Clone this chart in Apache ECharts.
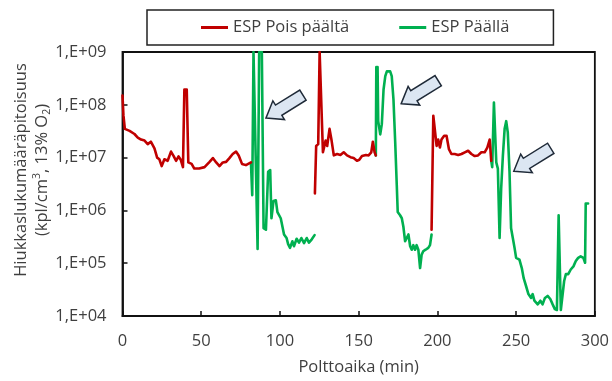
<!DOCTYPE html>
<html>
<head>
<meta charset="utf-8">
<script src="https://cdn.jsdelivr.net/npm/echarts@6/dist/echarts.min.js"></script>
<style>
  html, body { margin: 0; padding: 0; background: #ffffff; }
  #chart { width: 612px; height: 381px; }
</style>
</head>
<body>
<div id="chart"></div>
<script>
// Particle number concentration vs. burning time, ESP switched off / on.
// Each run is a list of [time (min), concentration (pcs/cm3, 13% O2)].

const seriesNames = ['ESP Pois päältä', 'ESP Päällä'];

const offRun1 = [
  [0, 1.5e8], [0.6, 6.3e7], [1.5, 3.5e7], [4.5, 3.2e7], [7.6, 2.8e7], [9.7, 2.4e7],
  [11.8, 2.2e7], [14, 2.1e7], [16, 1.8e7], [18, 2.0e7], [20.3, 1.5e7], [22, 1.0e7],
  [23.4, 9.3e6], [24.9, 6.9e6], [26.6, 9.3e6], [28.7, 8.7e6], [30.8, 1.3e7], [32.5, 1.07e7],
  [34, 8.7e6], [35.6, 1.05e7], [37, 9.1e6], [38.4, 6.6e6], [39.3, 1.95e8], [40.8, 1.95e8],
  [41.8, 8.1e6], [43.9, 7.6e6], [45.6, 6.2e6], [48.7, 6.2e6], [52.1, 6.6e6], [55.3, 8.3e6],
  [57.4, 9.8e6], [59.5, 8.1e6], [61.6, 6.9e6], [63.7, 8.1e6], [65.8, 8.3e6], [67.9, 9.8e6],
  [70, 1.17e7], [72.1, 1.3e7], [73.8, 1.1e7], [75.9, 7.6e6], [78.4, 7.2e6], [81.6, 8.1e6]
];

const offRun2 = [
  [122.2, 2.1e6], [123, 1.66e7], [124.3, 1.8e7], [125.2, 1e9], [126.4, 1e9], [127.3, 1.26e7],
  [129, 2.1e7], [130, 1.66e7], [131.5, 3.5e7], [132.8, 2.1e7], [134.2, 1.1e7], [136.3, 1.17e7],
  [138.4, 1.12e7], [140.5, 1.26e7], [142.6, 1.1e7], [144.8, 1.02e7], [146.8, 9.8e6], [148.9, 8.7e6],
  [150.4, 9.1e6], [152.1, 1.07e7], [154.6, 1.12e7], [156.3, 1.1e7], [158, 1.26e7], [159, 2.0e7],
  [160.1, 1.26e7], [160.9, 1.1e7]
];

const offRun3 = [
  [196.3, 4.3e5], [197.4, 6.2e7], [198.4, 5.8e7], [199.5, 1.66e7], [200.5, 2.2e7], [201.6, 1.55e7],
  [202.6, 2.2e7], [204.3, 2.6e7], [205.8, 2.6e7], [207.3, 1.45e7], [208.9, 1.17e7], [211, 1.17e7],
  [213.2, 1.12e7], [215.3, 1.17e7], [217.4, 1.26e7], [219.5, 1.35e7], [221.6, 1.17e7], [223.7, 1.07e7],
  [225.8, 1.1e7], [227.9, 1.26e7], [230, 1.26e7], [231.7, 1.55e7], [233.2, 2.2e7], [234.2, 8.7e6]
];

const onRun1 = [
  [81.6, 7.6e6], [82.4, 1.95e6], [83.2, 1e9], [84.3, 1e9], [85.8, 1.86e5], [86.8, 1e9],
  [88.5, 1e9], [89.6, 4.6e5], [91.1, 4.3e5], [92.5, 5.4e6], [93.8, 5.8e6], [94.6, 7.1e5],
  [95.9, 1.5e6], [97.4, 1.55e6], [98.4, 9.3e5], [100.5, 7.1e5], [102.6, 3.5e5], [104.2, 3.0e5],
  [105.2, 2.3e5], [106.4, 1.95e5], [107.9, 2.6e5], [108.9, 2.1e5], [110.6, 2.9e5], [112.1, 2.45e5],
  [113.6, 3.0e5], [115.3, 2.4e5], [117, 3.0e5], [118.4, 2.45e5], [120.1, 2.8e5], [122, 3.4e5]
];

const onRun2 = [
  [160.9, 1.1e7], [161.2, 5.2e8], [161.6, 4.9e7], [162, 5.2e8], [162.4, 4.9e7], [163.7, 2.75e7],
  [164.7, 4.3e7], [165.8, 1.95e8], [166.9, 3.5e8], [167.9, 4.3e8], [170, 4.3e8], [171, 3.5e8],
  [172.1, 1.26e8], [173.2, 1.95e7], [174.2, 3.0e6], [174.8, 9.3e5], [176.3, 8.1e5], [177.4, 7.1e5],
  [178.4, 4.9e5], [179.5, 2.6e5], [180.5, 2.75e5], [181.6, 3.5e5], [182.7, 2.1e5], [183.7, 1.8e5],
  [184.7, 2.2e5], [185.8, 1.8e5], [186.8, 2.2e5], [187.9, 1.8e5], [189, 8.1e4], [190, 1.45e5],
  [191.1, 1.7e5], [192.5, 1.8e5], [194.2, 1.95e5], [195.3, 2.2e5], [196.3, 3.5e5]
];

const onRun3 = [
  [234.2, 8.7e6], [234.8, 6.6e6], [235.9, 1.1e8], [236.7, 1.1e8], [237.4, 8.1e6], [238.4, 6.2e6],
  [239.5, 3.0e5], [240.5, 2.6e6], [241.6, 1.1e7], [242.7, 3.5e7], [243.7, 4.9e7], [244.7, 3.0e7],
  [245.8, 5.4e6], [246.8, 4.6e5], [247.9, 3.0e5], [249, 1.95e5], [250, 1.26e5], [252.1, 1.17e5],
  [253.6, 8.1e4], [254.8, 5.2e4], [256.3, 3.7e4], [257.8, 2.6e4], [259.5, 2.2e4], [260.5, 2.6e4],
  [261.6, 1.95e4], [262.6, 1.8e4], [263.7, 1.66e4], [265.4, 1.95e4], [266.8, 1.66e4], [268.3, 2.2e4],
  [270, 2.4e4], [271.7, 2.1e4], [273.2, 1.66e4], [274.6, 1.35e4], [275.9, 1.3e4], [277, 8.1e5],
  [277.8, 8.1e5], [278.4, 1.3e4], [279.5, 1.3e4], [280.5, 4.6e4], [281.6, 6.2e4], [283.1, 6.2e4],
  [284.7, 7.6e4], [286.4, 8.7e4], [287.9, 1.1e5], [289.4, 1.26e5], [291, 1.35e5], [292.7, 1.26e5],
  [293.8, 1.02e5], [294.2, 1.35e6], [295.7, 1.35e6]
];

const yTickLabels = ['1,E+04', '1,E+05', '1,E+06', '1,E+07', '1,E+08', '1,E+09'];
const xTicks = [0, 50, 100, 150, 200, 250, 300];

// Arrow callouts: tip location in data units.
const arrowTips = [[91.1, 5.6e7], [177, 1.05e8], [248.5, 5.5e6]];

const FONT = '"Open Sans", sans-serif';
const TEXT = '#3f3f3f';
const FS = 16.5;

// join runs with an empty point so the line breaks between them
function joinRuns(runs) {
  const out = [];
  runs.forEach((r, i) => {
    if (i > 0) out.push([r[0][0], '-']);
    r.forEach(p => out.push(p));
  });
  return out;
}

const chart = echarts.init(document.getElementById('chart'), null, { renderer: 'canvas' });

chart.setOption({
  animation: false,
  backgroundColor: '#ffffff',
  textStyle: { fontFamily: FONT },
  grid: {
    left: 122.5, right: 14.5, top: 52, bottom: 62.5,
    show: true, borderColor: '#111', borderWidth: 1.8, backgroundColor: 'transparent'
  },
  legend: {
    left: 147, top: 10,
    padding: [9, 44, 9, 54],
    itemGap: 50, itemWidth: 27, itemHeight: 3, icon: 'rect',
    borderColor: '#222', borderWidth: 1.5,
    textStyle: { fontFamily: FONT, fontSize: FS, color: TEXT },
    data: seriesNames
  },
  xAxis: {
    type: 'value', min: xTicks[0], max: xTicks[xTicks.length - 1], interval: 50,
    name: 'Polttoaika (min)', nameLocation: 'middle', nameGap: 43,
    nameTextStyle: { fontFamily: FONT, fontSize: FS, color: TEXT },
    axisLine: { lineStyle: { color: '#111', width: 1.8 } },
    axisTick: { inside: true, length: 5, lineStyle: { color: '#111', width: 1.5 } },
    axisLabel: { margin: 17, fontFamily: FONT, fontSize: FS, color: TEXT },
    splitLine: { show: false }
  },
  yAxis: {
    type: 'log', logBase: 10, min: 1e4, max: 1e9,
    axisLine: { show: true, lineStyle: { color: '#111', width: 1.8 } },
    axisTick: { show: true, inside: true, length: 5, lineStyle: { color: '#111', width: 1.5 } },
    axisLabel: {
      margin: 16, fontFamily: FONT, fontSize: FS, color: TEXT,
      formatter: v => yTickLabels[Math.round(Math.log10(v)) - 4]
    },
    splitLine: { show: false }
  },
  series: [
    {
      name: seriesNames[0], type: 'line', showSymbol: false, symbol: 'none', clip: true,
      color: '#C00000',
      lineStyle: { width: 2.6, color: '#C00000', join: 'round', cap: 'round' },
      data: joinRuns([offRun1, offRun2, offRun3]), z: 3
    },
    {
      name: seriesNames[1], type: 'line', showSymbol: false, symbol: 'none', clip: true,
      color: '#00B050',
      lineStyle: { width: 2.6, color: '#00B050', join: 'round', cap: 'round' },
      data: joinRuns([onRun1, onRun2, onRun3]), z: 2
    }
  ]
});

// Block arrows pointing down-left at the ESP-on periods
function arrowPoints(tip) {
  const dx = 37, dy = -23;                  // tip -> tail direction
  const L = Math.hypot(dx, dy);
  const ux = dx / L, uy = dy / L, nx = -uy, ny = ux;
  const headLen = 15, headHalf = 11, shaftHalf = 6;
  const at = (a, b) => [tip[0] + ux * a + nx * b, tip[1] + uy * a + ny * b];
  return [at(0, 0), at(headLen, headHalf), at(headLen, shaftHalf), at(L, shaftHalf),
          at(L, -shaftHalf), at(headLen, -shaftHalf), at(headLen, -headHalf)];
}

const graphics = arrowTips.map(t => {
  const p = chart.convertToPixel({ gridIndex: 0 }, t);
  return {
    type: 'polygon', z: 10,
    shape: { points: arrowPoints(p) },
    style: { fill: '#DCE6F2', stroke: '#1F2A38', lineWidth: 1.5, lineJoin: 'miter' }
  };
});

// Rotated y-axis title with superscript / subscript
graphics.push({
  type: 'text', z: 10,
  x: 32, y: 170, rotation: Math.PI / 2,
  style: {
    text: '{a|Hiukkaslukumääräpitoisuus}\n{a|(kpl/cm}{sup|3}{a|, 13% O}{sub|2}{a|)}',
    align: 'center', verticalAlign: 'middle',
    rich: {
      a: { fontFamily: FONT, fontSize: FS, fill: TEXT, lineHeight: 21 },
      sup: { fontFamily: FONT, fontSize: 10.5, fill: TEXT, lineHeight: 21, verticalAlign: 'top' },
      sub: { fontFamily: FONT, fontSize: 10.5, fill: TEXT, lineHeight: 21, verticalAlign: 'bottom' }
    }
  }
});

chart.setOption({ graphic: graphics });
</script>
</body>
</html>
